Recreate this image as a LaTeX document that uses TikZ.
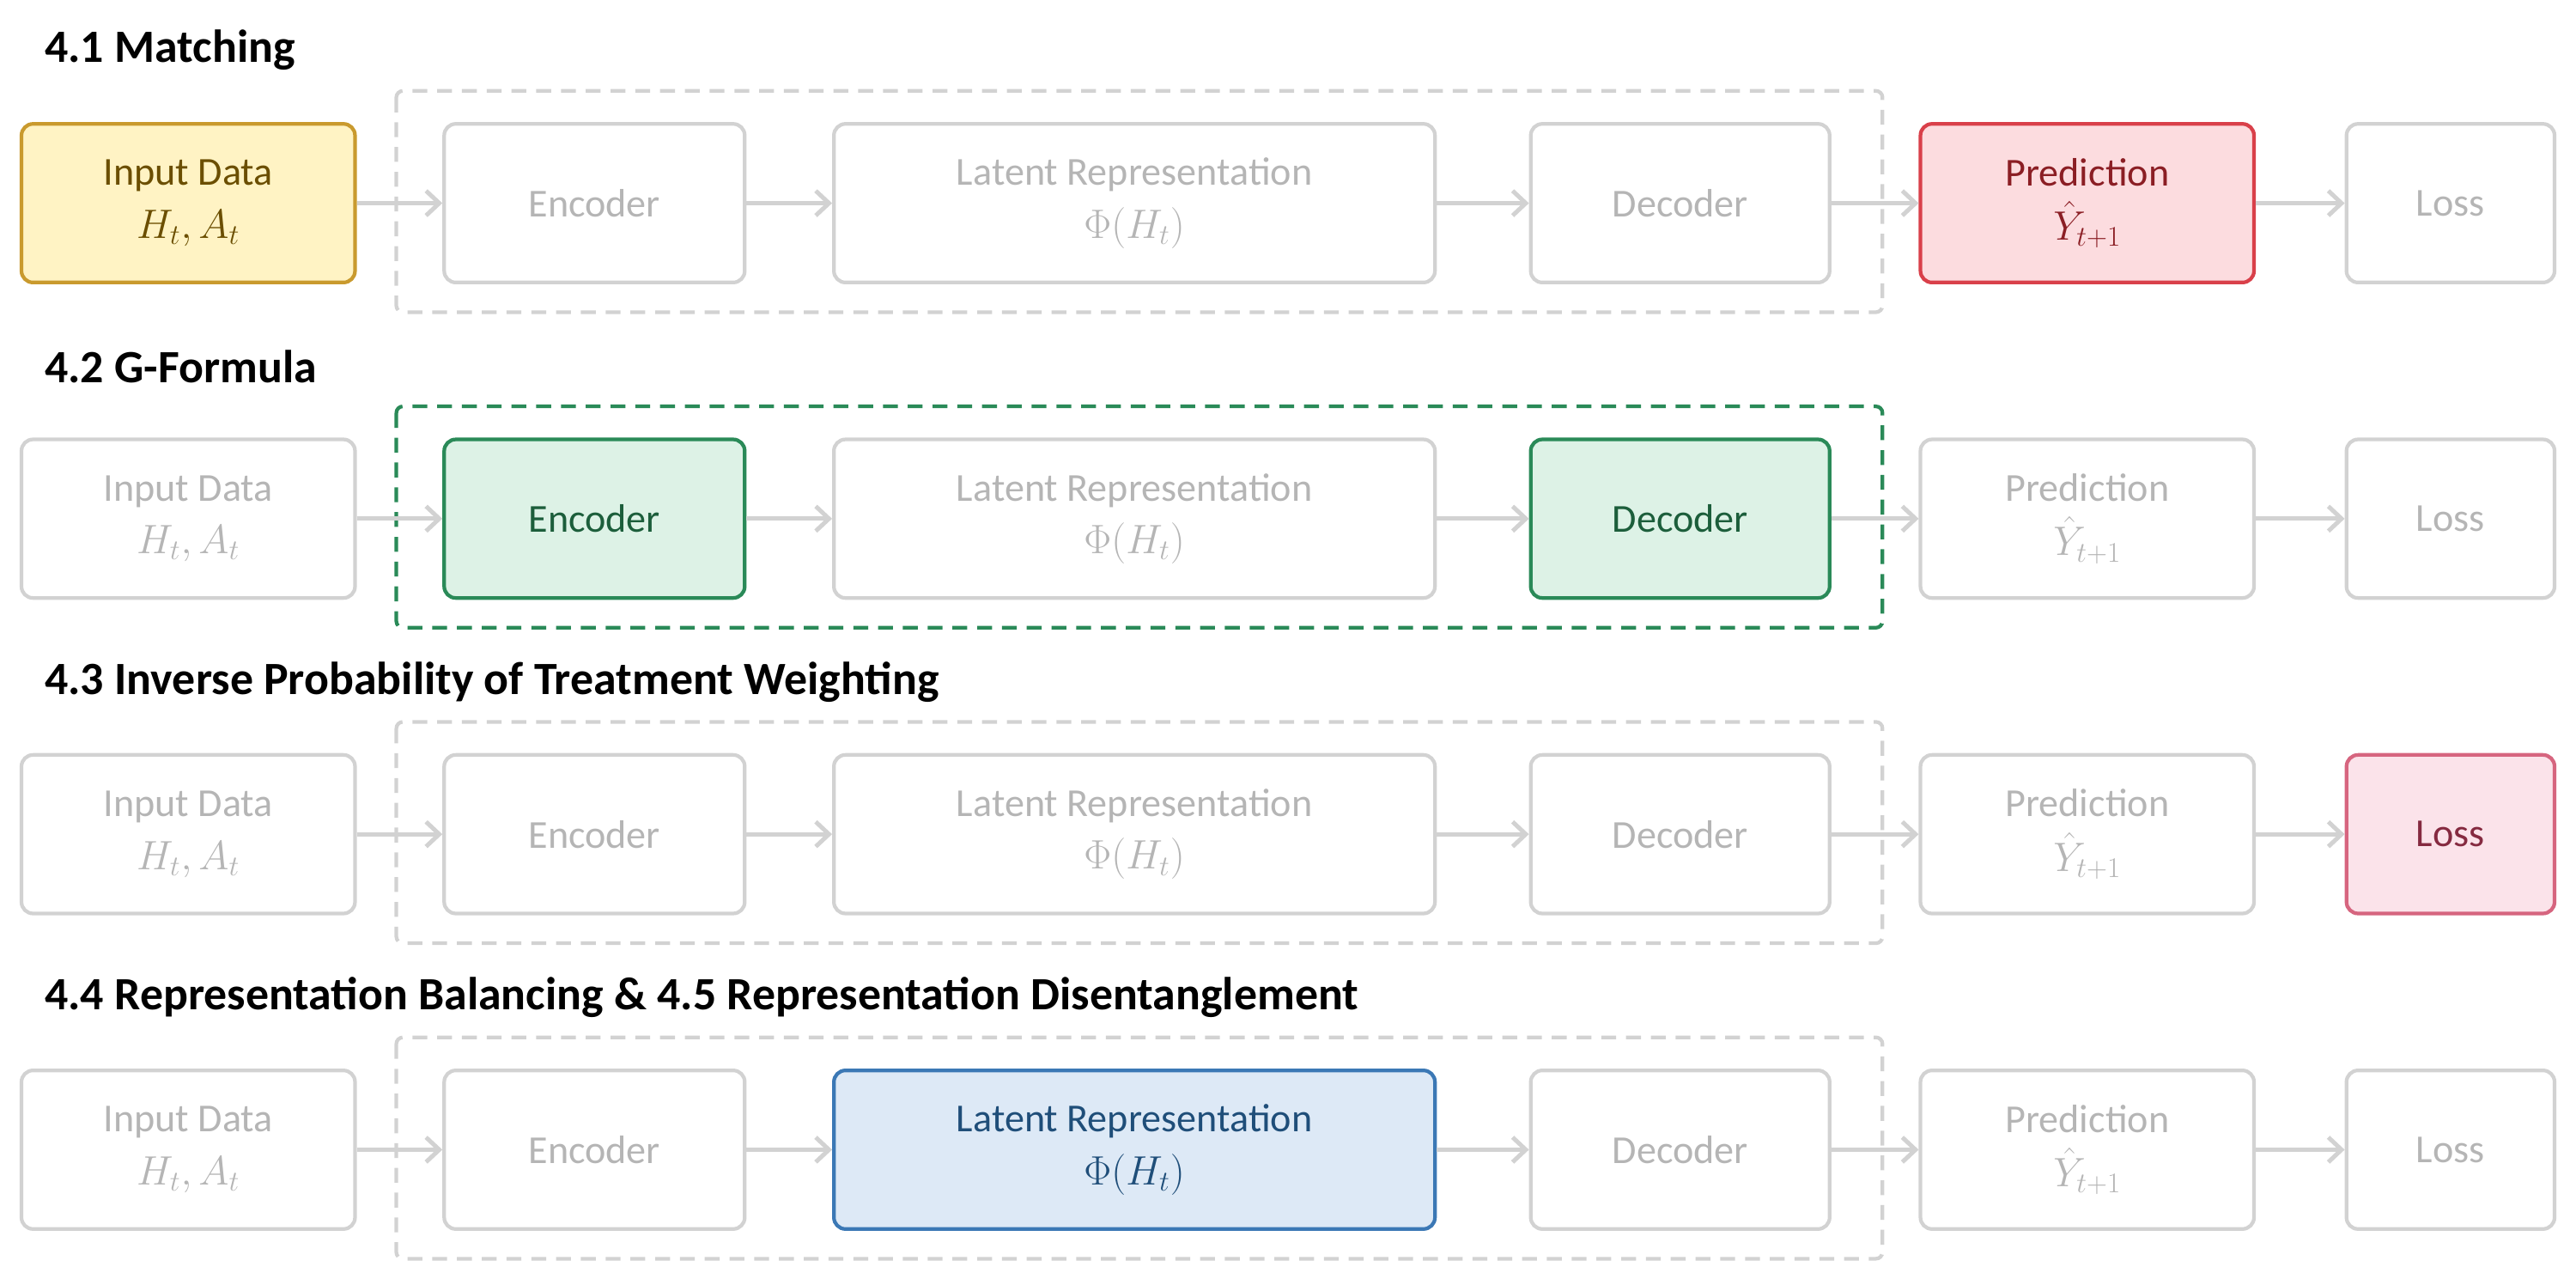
\documentclass[tikz,border=0pt]{standalone}
\usepackage{fontspec}
\setmainfont{Carlito}
\usetikzlibrary{arrows.meta}
\definecolor{gline}{HTML}{D2D2D2}
\definecolor{gtext}{HTML}{B5B5B5}
\tikzset{
 box/.style={draw=gline,line width=2.2pt,rounded corners=7pt,minimum height=96pt,align=center,font=\fontsize{24}{32}\selectfont,text=gtext,inner sep=0pt},
 dbox/.style={draw=gline,line width=2.2pt,dash pattern=on 9pt off 6pt,rounded corners=4pt},
 arr/.style={draw=gline,line width=2.6pt,-{Straight Barb[length=8pt,width=15pt]}},
 head/.style={anchor=west,font=\fontsize{28}{30}\selectfont\bfseries,inner sep=0pt},
 yel/.style={fill=HTML-FFF3C4,draw=HTML-C99A2E,text=HTML-7A5500},
}
\definecolor{cyf}{HTML}{FFF3C4}\definecolor{cyd}{HTML}{C99A2E}\definecolor{cyt}{HTML}{6B4E00}
\definecolor{crf}{HTML}{FCDCDF}\definecolor{crd}{HTML}{D9404A}\definecolor{crt}{HTML}{8B1E24}
\definecolor{cgf}{HTML}{DDF2E6}\definecolor{cgd}{HTML}{2A8A58}\definecolor{cgt}{HTML}{1C5E3B}
\definecolor{cpf}{HTML}{FBE3EA}\definecolor{cpd}{HTML}{D6657F}\definecolor{cpt}{HTML}{852A40}
\definecolor{cbf}{HTML}{DDE9F6}\definecolor{cbd}{HTML}{3B78B5}\definecolor{cbt}{HTML}{1F4E79}
\tikzset{
 yel/.style={fill=cyf,draw=cyd,text=cyt},
 red/.style={fill=crf,draw=crd,text=crt},
 grn/.style={fill=cgf,draw=cgd,text=cgt},
 pnk/.style={fill=cpf,draw=cpd,text=cpt},
 blu/.style={fill=cbf,draw=cbd,text=cbt},
}
\newcommand{\myrow}[9]{%
 \draw[#9] (240,#2-68) rectangle (1140,#2+66);
 \node[box,#3,minimum width=202pt] (#1a) at (114,#2) {Input Data\\$\mathsurround=0pt\displaystyle H_t,A_t$};
 \node[box,#4,minimum width=182pt] (#1b) at (360,#2) {Encoder};
 \node[box,#5,minimum width=364pt] (#1c) at (687,#2) {Latent Representation\\$\Phi(H_t)$};
 \node[box,#6,minimum width=181pt] (#1d) at (1017.5,#2) {Decoder};
 \node[box,#7,minimum width=202pt] (#1e) at (1264,#2) {Prediction\\[1pt]$\hat{Y}_{t+1}$};
 \node[box,#8,minimum width=126pt] (#1f) at (1484,#2) {Loss};
 \draw[arr] (#1a) -- (#1b);
 \draw[arr] (#1b) -- (#1c);
 \draw[arr] (#1c) -- (#1d);
 \draw[arr] (#1d) -- (#1e);
 \draw[arr] (#1e) -- (#1f);
}
\begin{document}
\begin{tikzpicture}[x=1pt,y=-1pt]
\useasboundingbox (0,0) rectangle (1560,774);
\node[head] (h1) at (27,30) {4.1 Matching};
\node[head] (h2) at (27,222) {4.2 G-Formula};
\node[head] (h3) at (27,413) {4.3 Inverse Probability of Treatment Weighting};
\node[head] (h4) at (27,604) {4.4 Representation Balancing \& 4.5 Representation Disentanglement};
\myrow{p}{123}{yel}{}{}{}{red}{}{dbox}
\myrow{q}{314}{}{grn}{}{grn}{}{}{dbox,draw=cgd}
\myrow{r}{505}{}{}{}{}{}{pnk}{dbox}
\myrow{s}{696}{}{}{blu}{}{}{}{dbox}
\end{tikzpicture}
\end{document}
